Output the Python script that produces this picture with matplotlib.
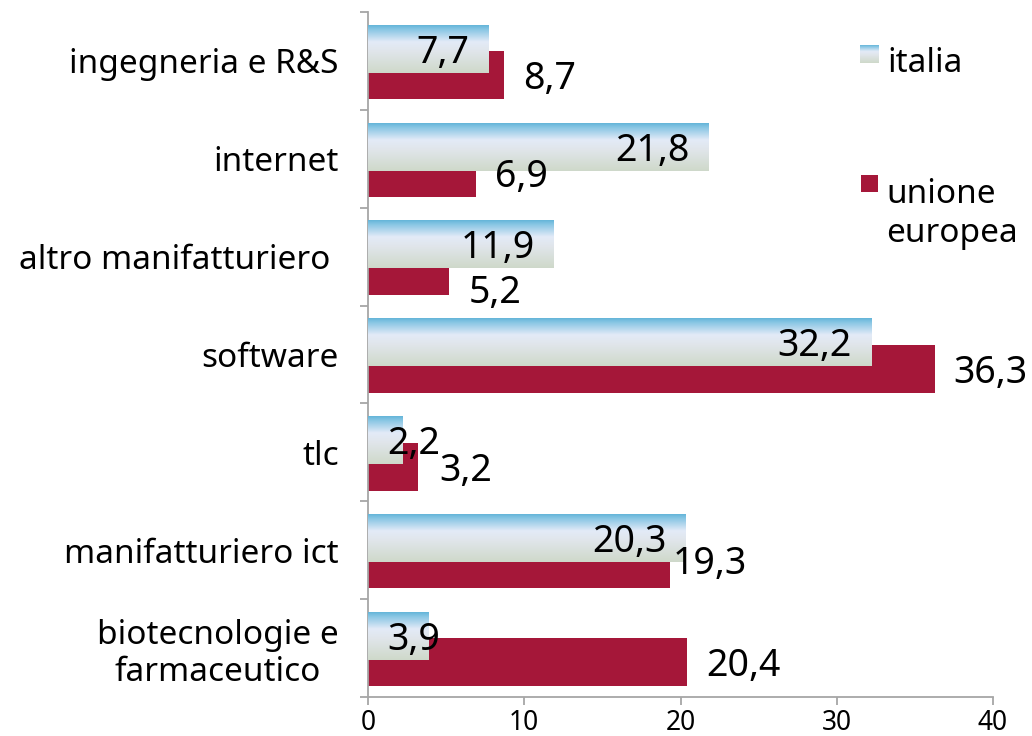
import numpy as np
import matplotlib
matplotlib.use("Agg")
import matplotlib.pyplot as plt
from matplotlib.patches import Rectangle

plt.rcParams['font.family'] = ['Noto Sans', 'DejaVu Sans']

categories = ["ingegneria e R&S", "internet", "altro manifatturiero ", "software",
              "tlc", "manifatturiero ict", "biotecnologie e\nfarmaceutico"]
italia = [7.7, 21.8, 11.9, 32.2, 2.2, 20.3, 3.9]
unione_europea = [8.7, 6.9, 5.2, 36.3, 3.2, 19.3, 20.4]
xticks = [0, 10, 20, 30, 40]
legend_labels = ["italia", "unione", "europea"]

# label offsets (pixels) for the EU value labels
eu_dx = [19, 19, 19, 18, 21, 3, 19]
eu_dy = [0, 0, 18, 0, 0, -4, 0]

RED = "#A51739"
AXC = "#A6A6A6"
W, H = 1032, 736

fig = plt.figure(figsize=(W / 100, H / 100), dpi=100)
ax = fig.add_axes([368 / W, 1 - 697 / H, (993 - 368) / W, (697 - 12) / H])

y = np.arange(len(categories))
bh = 0.49
y_it = y - 0.125
y_eu = y + 0.145

# gradient for italia bars
stops = np.array([0.0, 0.08, 0.35, 0.55, 1.0])
cols = np.array([[0.39, 0.71, 0.85],
                 [0.52, 0.77, 0.89],
                 [0.89, 0.92, 0.97],
                 [0.88, 0.90, 0.92],
                 [0.81, 0.85, 0.79]])
t = np.linspace(0, 1, 200)
grad = np.stack([np.interp(t, stops, cols[:, k]) for k in range(3)], axis=1)[:, None, :]

ax.barh(y_eu, unione_europea, height=bh, color=RED, zorder=2)
bars_it = ax.barh(y_it, italia, height=bh, color='none', zorder=3)
for b in bars_it:
    x0, y0, w, h = b.get_x(), b.get_y(), b.get_width(), b.get_height()
    ax.imshow(grad, extent=[x0, x0 + w, y0 + h, y0], aspect='auto', origin='upper',
              zorder=3, interpolation='bilinear')

ax.set_xlim(0, 40)
ax.set_ylim(len(categories) - 0.5, -0.5)

def fmt(v):
    return f"{v:.1f}".replace('.', ',')

for yi, v in zip(y_it, italia):
    if v >= 6:
        ax.annotate(fmt(v), (v, yi), xytext=(-19, -14), textcoords='offset pixels',
                    ha='right', va='baseline', fontsize=27, zorder=5)
    else:
        ax.annotate(fmt(v), (0, yi), xytext=(19, -14), textcoords='offset pixels',
                    ha='left', va='baseline', fontsize=27, zorder=5)

for yi, v, dx, dy in zip(y_eu, unione_europea, eu_dx, eu_dy):
    ax.annotate(fmt(v), (v, yi), xytext=(dx, -14 - dy), textcoords='offset pixels',
                ha='left', va='baseline', fontsize=27, zorder=5, annotation_clip=False)

# axes styling
for s in ['top', 'right']:
    ax.spines[s].set_visible(False)
for s in ['left', 'bottom']:
    ax.spines[s].set_color(AXC)
    ax.spines[s].set_linewidth(1.3)

ax.set_yticks(y)
ax.set_yticklabels(categories, fontsize=24)
for lab in ax.get_yticklabels():
    lab.set_multialignment('center')
    lab.set_linespacing(1.15)
ax.set_yticks(np.arange(-0.5, len(categories), 1.0), minor=True)
ax.tick_params(axis='y', which='major', length=0, pad=21)
ax.tick_params(axis='y', which='minor', length=6, width=1.3, color=AXC, direction='out')

ax.set_xticks(xticks)
ax.set_xticklabels([str(v) for v in xticks], fontsize=19)
ax.tick_params(axis='x', which='major', length=6, width=1.3, color=AXC, direction='out', pad=3)

# legend
def px2fig(x, yy):
    return x / W, 1 - yy / H

sq = Rectangle(px2fig(861, 192), 17 / W, 17 / H, transform=fig.transFigure,
               facecolor=RED, edgecolor='none')
fig.patches.append(sq)
lax = fig.add_axes([860 / W, 1 - 63 / H, 18 / W, 18 / H])
lax.imshow(grad, aspect='auto', extent=[0, 1, 0, 1], interpolation='bilinear')
lax.set_axis_off()

fig.text(*px2fig(887, 72), legend_labels[0], fontsize=24, ha='left', va='baseline')
fig.text(*px2fig(886, 203), legend_labels[1], fontsize=24, ha='left', va='baseline')
fig.text(*px2fig(886, 242), legend_labels[2], fontsize=24, ha='left', va='baseline')

fig.savefig("out.png", dpi=100)
